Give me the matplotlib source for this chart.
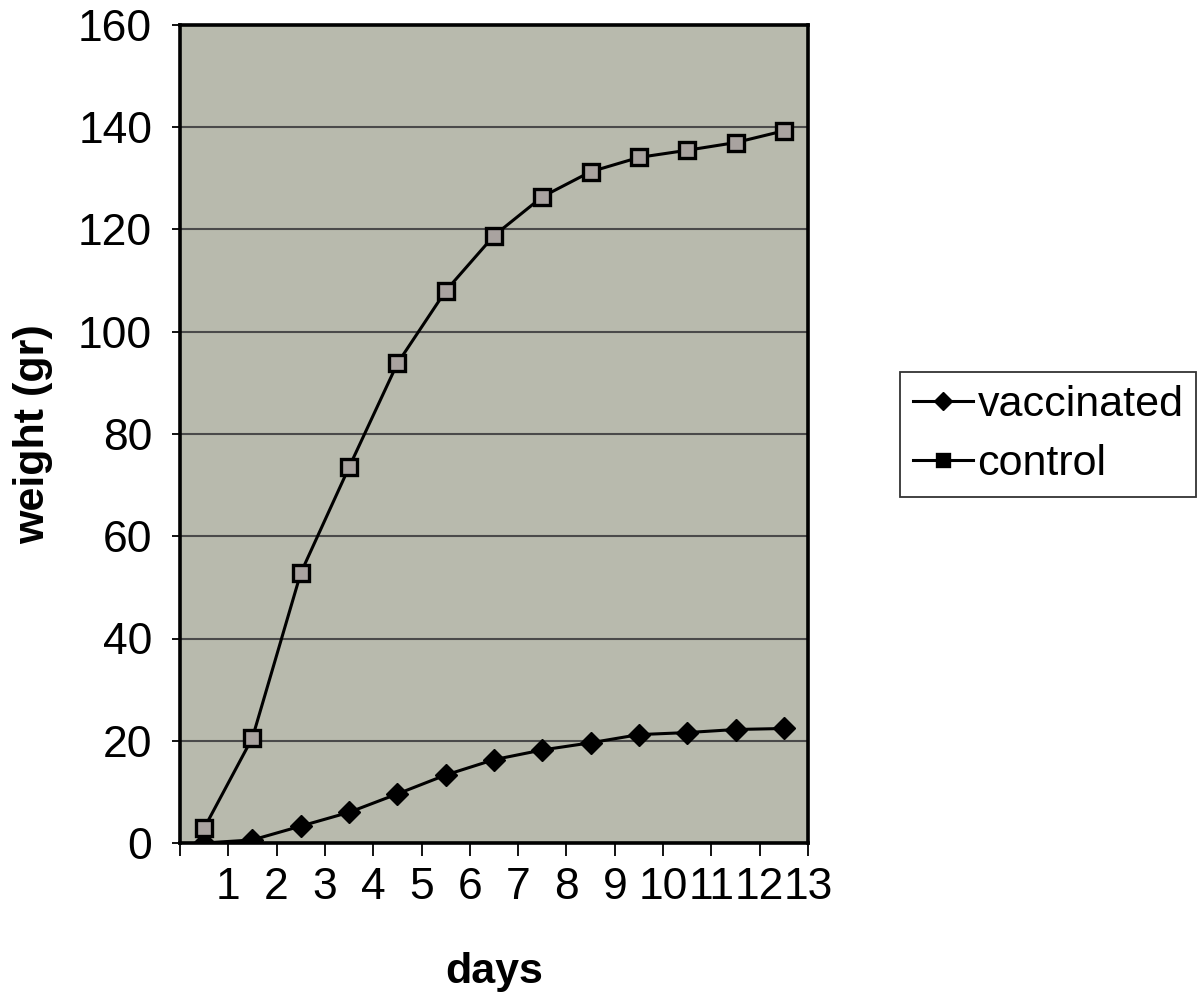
import matplotlib.pyplot as plt

days = list(range(1, 14))
vaccinated = [0, 0.6, 3.3, 6, 9.6, 13.3, 16.3, 18.2, 19.6, 21.2, 21.6, 22.2, 22.4]
control = [2.9, 20.6, 52.8, 73.5, 93.8, 108, 118.8, 126.4, 131.3, 134.1, 135.5, 137, 139.3]

plt.rcParams['font.family'] = ['Liberation Sans', 'DejaVu Sans']

fig = plt.figure(figsize=(11.97, 9.94), dpi=100)
ax = fig.add_axes([180 / 1197, 1 - 843 / 994, 628 / 1197, 818 / 994])
ax.set_facecolor('#b8baad')

# points sit in the middle of each category, labels on the right tick
xpos = [d - 0.5 for d in days]
ax.plot(xpos, vaccinated, color='black', lw=2.2, marker='D', ms=11,
        mfc='black', mec='black', label='vaccinated', zorder=3)
ax.plot(xpos, control, color='black', lw=2.2, marker='s', ms=12,
        mfc='#a9a3a0', mec='black', mew=2.4, label='control', zorder=3)

ax.set_xlim(0, 13)
ax.set_ylim(0, 160)
ax.set_yticks(range(0, 161, 20))
ax.set_xticks(range(0, 14))
ax.set_xticklabels([''] + [str(d) for d in days])
ax.grid(axis='y', color='#4a4a4a', lw=1.5)
ax.set_axisbelow(True)

for s in ax.spines.values():
    s.set_linewidth(2.6)
    s.set_color('black')

ax.tick_params(axis='y', direction='out', length=6, width=1.3, labelsize=32, pad=14)
ax.tick_params(axis='x', direction='out', length=9, width=1.3, labelsize=32, pad=8)

ax.set_ylabel('weight (gr)', fontsize=31, fontweight='bold', labelpad=18)
ax.set_xlabel('days', fontsize=31, fontweight='bold', labelpad=32)

leg = ax.legend(loc='upper left', bbox_to_anchor=(720 / 628, 1 - 347 / 818), fontsize=31,
                frameon=True, fancybox=False, handlelength=1.4, handletextpad=0.1,
                borderpad=0.3, labelspacing=0.45, borderaxespad=0)
leg.get_frame().set_edgecolor('black')
leg.get_frame().set_linewidth(1.3)
for h in leg.legend_handles:
    h.set_markerfacecolor('black')
    h.set_markersize(9)

fig.savefig('out.png', dpi=100, facecolor='white')
